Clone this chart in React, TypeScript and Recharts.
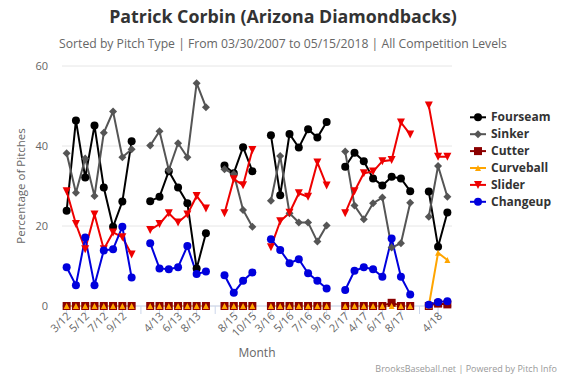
import React from 'react';
import { LineChart, Line, XAxis, YAxis, CartesianGrid } from 'recharts';

const months = [
  '3/12', '4/12', '5/12', '6/12', '7/12', '8/12', '9/12', '10/12', '',
  '3/13', '4/13', '5/13', '6/13', '7/13', '8/13', '9/13', '',
  '7/15', '8/15', '9/15', '10/15', '',
  '3/16', '4/16', '5/16', '6/16', '7/16', '8/16', '9/16', '',
  '2/17', '3/17', '4/17', '5/17', '6/17', '7/17', '8/17', '9/17', '',
  '3/18', '4/18', '5/18',
];

const fourseam = [
  23.8, 46.4, 32.1, 45.1, 29.6, 19.8, 26.1, 41.2, null,
  26.2, 27.3, 33.7, 29.6, 25.7, 9.4, 18.2, null,
  35.1, 33.2, 39.7, 33.7, null,
  42.7, 27.7, 43.0, 39.6, 44.2, 42.1, 46.0, null,
  34.8, 38.3, 36.2, 31.9, 30.1, 32.3, 31.9, 28.7, null,
  28.6, 14.8, 23.4,
];

const sinker = [
  38.2, 28.3, 36.9, 27.5, 43.3, 48.6, 37.2, 39.2, null,
  40.1, 43.7, 34.0, 40.7, 37.2, 55.7, 49.7, null,
  34.2, 33.0, 24.0, 19.8, null,
  26.3, 37.5, 23.2, 20.9, 20.9, 16.1, 20.1, null,
  38.6, 25.1, 21.7, 25.7, 27.1, 14.6, 15.7, 25.8, null,
  22.3, 35.0, 27.3,
];

const cutter = [
  0, 0, 0, 0, 0, 0, 0, 0, null,
  0, 0, 0, 0, 0, 0, 0, null,
  0, 0, 0, 0, null,
  0, 0, 0, 0, 0, 0, 0, null,
  0, 0, 0, 0, 0, 0.8, 0, 0, null,
  0, 0.6, 0.4,
];

const curveball = [
  0, 0, 0, 0, 0, 0, 0, 0, null,
  0, 0, 0, 0, 0, 0, 0, null,
  0, 0, 0, 0, null,
  0, 0, 0, 0, 0, 0, 0, null,
  0, 0, 0, 0, 0, 0, 0, 0, null,
  0, 13.3, 11.5,
];

const slider = [
  28.7, 20.5, 14.2, 22.9, 14.2, 18.4, 17.2, 12.9, null,
  19.0, 20.5, 23.2, 20.9, 22.9, 27.5, 24.4, null,
  23.2, 31.7, 30.2, 39.0, null,
  14.7, 21.2, 23.3, 28.2, 27.3, 35.9, 30.1, null,
  23.2, 28.7, 33.2, 33.6, 36.2, 36.5, 45.9, 42.9, null,
  50.1, 37.3, 37.3,
];

const changeup = [
  9.7, 5.2, 17.1, 5.2, 13.9, 14.2, 19.8, 7.1, null,
  15.7, 9.4, 9.2, 9.7, 15.0, 8.0, 8.6, null,
  7.7, 3.3, 6.3, 8.4, null,
  16.7, 14.0, 10.7, 11.7, 8.2, 6.3, 4.4, null,
  4.0, 8.8, 9.7, 9.2, 7.3, 16.9, 7.3, 2.9, null,
  0.3, 1.0, 1.2,
];

const yTicks = [0, 20, 40, 60];

const seriesNames = ['Fourseam', 'Sinker', 'Cutter', 'Curveball', 'Slider', 'Changeup'];
const seriesValues = [fourseam, sinker, cutter, curveball, slider, changeup];
const seriesColors = ['#000000', '#555555', '#8b0000', '#ffa500', '#ee0000', '#0000dd'];
const seriesShapes = ['circle', 'diamond', 'square', 'triangle', 'triangle-down', 'circle'];

const data = months.map((m, i) => {
  const row: any = { m };
  seriesNames.forEach((n, s) => {
    row[n] = seriesValues[s][i];
  });
  return row;
});

const FONT = '"Open Sans", "DejaVu Sans", sans-serif';

function Marker({ shape, color, cx, cy }: { shape: string; color: string; cx: number; cy: number }) {
  const r = 4;
  if (shape === 'circle') return <circle cx={cx} cy={cy} r={r} fill={color} />;
  if (shape === 'diamond')
    return <path d={`M${cx},${cy - r}L${cx + r},${cy}L${cx},${cy + r}L${cx - r},${cy}Z`} fill={color} />;
  if (shape === 'square') return <rect x={cx - r} y={cy - r} width={2 * r} height={2 * r} fill={color} />;
  if (shape === 'triangle')
    return <path d={`M${cx},${cy - r + 1}L${cx + r - 1},${cy + r - 1}L${cx - r + 1},${cy + r - 1}Z`} fill={color} />;
  return <path d={`M${cx - r},${cy - r}L${cx + r},${cy - r}L${cx},${cy + r}Z`} fill={color} />;
}

const makeDot = (shape: string, color: string) => (props: any) => {
  const { cx, cy, index } = props;
  if (cx == null || cy == null || Number.isNaN(cx) || Number.isNaN(cy)) return <g key={`d${index}`} />;
  return (
    <g key={`d${index}`}>
      <Marker shape={shape} color={color} cx={cx} cy={cy} />
    </g>
  );
};

const XTick = (props: any) => {
  const { x, y, payload } = props;
  return (
    <text
      transform={`translate(${x + 2},${y - 2}) rotate(-45)`}
      textAnchor="end"
      dy={4}
      fontSize={11}
      fill="#666666"
      fontFamily={FONT}
    >
      {payload.value}
    </text>
  );
};

export default function App() {
  return (
    <div style={{ position: 'relative', width: 566, height: 377, background: '#fff' }}>
      <style>{'body{margin:0}'}</style>
      <LineChart
        width={566}
        height={377}
        data={data}
        margin={{ top: 66, right: 114, bottom: 0, left: 0 }}
      >
        <CartesianGrid horizontal vertical={false} stroke="#e6e6e6" />
        <XAxis
          dataKey="m"
          interval={1}
          height={71}
          padding={{ left: 4.64, right: 4.64 }}
          tickSize={8}
          tickLine={{ stroke: '#ccd6eb' }}
          axisLine={{ stroke: '#ccd6eb' }}
          tick={<XTick />}
        />
        <YAxis
          domain={[0, 60]}
          ticks={yTicks}
          width={62}
          axisLine={false}
          tickLine={false}
          tickSize={0}
          tickMargin={14}
          tick={{ fontSize: 11, fill: '#666666', fontFamily: FONT }}
        />
        {seriesNames.map((n, s) => (
          <Line
            key={n}
            dataKey={n}
            type="linear"
            stroke={seriesColors[s]}
            strokeWidth={2}
            dot={makeDot(seriesShapes[s], seriesColors[s])}
            activeDot={false}
            isAnimationActive={false}
            connectNulls={false}
          />
        ))}
      </LineChart>
      <svg
        width={566}
        height={377}
        style={{ position: 'absolute', left: 0, top: 0, pointerEvents: 'none' }}
      >
        <text x={283} y={23} textAnchor="middle" fontSize={17.8} fontWeight="bold" fill="#333333" fontFamily={FONT}>
          Patrick Corbin (Arizona Diamondbacks)
        </text>
        <text x={283} y={48} textAnchor="middle" fontSize={12.2} fill="#666666" fontFamily={FONT}>
          Sorted by Pitch Type | From 03/30/2007 to 05/15/2018 | All Competition Levels
        </text>
        <text transform="translate(21,186) rotate(-90)" textAnchor="middle" dy={4} fontSize={11.5} fill="#666666" fontFamily={FONT}>
          Percentage of Pitches
        </text>
        <text x={257} y={357} textAnchor="middle" fontSize={12} fill="#666666" fontFamily={FONT}>
          Month
        </text>
        <text x={557} y={372} textAnchor="end" fontSize={9} fill="#999999" fontFamily={FONT}>
          BrooksBaseball.net | Powered by Pitch Info
        </text>
        {seriesNames.map((n, s) => {
          const y = 117.3 + s * 16.9;
          return (
            <g key={n}>
              <line x1={470} x2={486} y1={y} y2={y} stroke={seriesColors[s]} strokeWidth={2} />
              <Marker shape={seriesShapes[s]} color={seriesColors[s]} cx={478} cy={y} />
              <text x={491} y={y + 4} fontSize={12} fontWeight="bold" fill="#333333" fontFamily={FONT}>
                {n}
              </text>
            </g>
          );
        })}
      </svg>
    </div>
  );
}
